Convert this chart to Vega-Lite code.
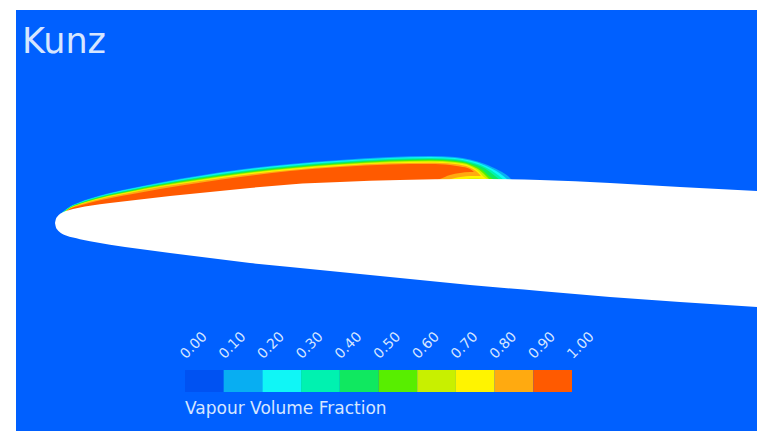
{
  "$schema": "https://vega.github.io/schema/vega-lite/v6.json",
  "width": 757,
  "height": 431,
  "autosize": {"type": "fit", "contains": "padding"},
  "padding": 0,
  "background": "white",
  "config": {"view": {"stroke": null}},
  "datasets": {
    "profile": [
      {"x": 0, "yu": 2, "yl": 2},
      {"x": 1, "yu": 6.3, "yl": -2.5},
      {"x": 2, "yu": 8, "yl": -4.3},
      {"x": 4, "yu": 10.2, "yl": -6.5},
      {"x": 7, "yu": 12.2, "yl": -8.7},
      {"x": 11, "yu": 13.9, "yl": -10.6},
      {"x": 18, "yu": 16, "yl": -12.6},
      {"x": 25, "yu": 17.4, "yl": -14.2},
      {"x": 35, "yu": 19.2, "yl": -16.2},
      {"x": 55, "yu": 22, "yl": -19.8},
      {"x": 85, "yu": 25.4, "yl": -24},
      {"x": 115, "yu": 29, "yl": -28},
      {"x": 155, "yu": 33, "yl": -33},
      {"x": 195, "yu": 37, "yl": -38},
      {"x": 235, "yu": 40.6, "yl": -42},
      {"x": 285, "yu": 43, "yl": -47},
      {"x": 345, "yu": 45, "yl": -53},
      {"x": 415, "yu": 46, "yl": -60},
      {"x": 485, "yu": 45, "yl": -66},
      {"x": 555, "yu": 42, "yl": -72},
      {"x": 625, "yu": 38, "yl": -77},
      {"x": 702, "yu": 34, "yl": -82}
    ],
    "cavity": [
      {"l": "0.1", "x": 7, "t": 12.5, "b": 9},
      {"l": "0.1", "x": 15, "t": 18.5, "b": 12},
      {"l": "0.1", "x": 25, "t": 23, "b": 14},
      {"l": "0.1", "x": 45, "t": 29.5, "b": 17.5},
      {"l": "0.1", "x": 75, "t": 36.5, "b": 21},
      {"l": "0.1", "x": 105, "t": 42.5, "b": 24.5},
      {"l": "0.1", "x": 145, "t": 49.5, "b": 29},
      {"l": "0.1", "x": 185, "t": 55.5, "b": 33},
      {"l": "0.1", "x": 235, "t": 61, "b": 38},
      {"l": "0.1", "x": 285, "t": 65, "b": 40},
      {"l": "0.1", "x": 335, "t": 68, "b": 41.7},
      {"l": "0.1", "x": 375, "t": 69, "b": 42.4},
      {"l": "0.1", "x": 400, "t": 68, "b": 42.8},
      {"l": "0.1", "x": 415, "t": 65.5, "b": 43},
      {"l": "0.1", "x": 430, "t": 61, "b": 42.8},
      {"l": "0.1", "x": 445, "t": 54, "b": 42.6},
      {"l": "0.1", "x": 453, "t": 49, "b": 42.5},
      {"l": "0.1", "x": 457, "t": 45, "b": 42.5},

      {"l": "0.2", "x": 7, "t": 12, "b": 9},
      {"l": "0.2", "x": 15, "t": 18.2, "b": 12},
      {"l": "0.2", "x": 25, "t": 22.6, "b": 14},
      {"l": "0.2", "x": 45, "t": 29, "b": 17.5},
      {"l": "0.2", "x": 75, "t": 35.9, "b": 21},
      {"l": "0.2", "x": 105, "t": 41.8, "b": 24.5},
      {"l": "0.2", "x": 145, "t": 48.7, "b": 29},
      {"l": "0.2", "x": 185, "t": 54.7, "b": 33},
      {"l": "0.2", "x": 235, "t": 60.2, "b": 38},
      {"l": "0.2", "x": 285, "t": 64.2, "b": 40},
      {"l": "0.2", "x": 335, "t": 67.1, "b": 41.7},
      {"l": "0.2", "x": 375, "t": 68, "b": 42.4},
      {"l": "0.2", "x": 400, "t": 67, "b": 42.8},
      {"l": "0.2", "x": 415, "t": 64.4, "b": 43},
      {"l": "0.2", "x": 430, "t": 59.5, "b": 42.8},
      {"l": "0.2", "x": 445, "t": 51.5, "b": 42.6},
      {"l": "0.2", "x": 453, "t": 45, "b": 42.5},

      {"l": "0.3", "x": 7, "t": 12, "b": 9},
      {"l": "0.3", "x": 15, "t": 17.9, "b": 12},
      {"l": "0.3", "x": 25, "t": 22.3, "b": 14},
      {"l": "0.3", "x": 45, "t": 28.5, "b": 17.5},
      {"l": "0.3", "x": 75, "t": 35.3, "b": 21},
      {"l": "0.3", "x": 105, "t": 41.2, "b": 24.5},
      {"l": "0.3", "x": 145, "t": 47.9, "b": 29},
      {"l": "0.3", "x": 185, "t": 53.8, "b": 33},
      {"l": "0.3", "x": 235, "t": 59.3, "b": 38},
      {"l": "0.3", "x": 285, "t": 63.3, "b": 40},
      {"l": "0.3", "x": 335, "t": 66.2, "b": 41.7},
      {"l": "0.3", "x": 375, "t": 67.1, "b": 42.4},
      {"l": "0.3", "x": 400, "t": 66, "b": 42.8},
      {"l": "0.3", "x": 415, "t": 63.2, "b": 43},
      {"l": "0.3", "x": 430, "t": 58, "b": 42.8},
      {"l": "0.3", "x": 443, "t": 50, "b": 42.6},
      {"l": "0.3", "x": 449, "t": 45, "b": 42.5},

      {"l": "0.4", "x": 8, "t": 12, "b": 9},
      {"l": "0.4", "x": 15, "t": 17.6, "b": 12},
      {"l": "0.4", "x": 25, "t": 21.9, "b": 14},
      {"l": "0.4", "x": 45, "t": 28.1, "b": 17.5},
      {"l": "0.4", "x": 75, "t": 34.7, "b": 21},
      {"l": "0.4", "x": 105, "t": 40.5, "b": 24.5},
      {"l": "0.4", "x": 145, "t": 47.2, "b": 29},
      {"l": "0.4", "x": 185, "t": 53, "b": 33},
      {"l": "0.4", "x": 235, "t": 58.5, "b": 38},
      {"l": "0.4", "x": 285, "t": 62.5, "b": 40},
      {"l": "0.4", "x": 335, "t": 65.3, "b": 41.7},
      {"l": "0.4", "x": 375, "t": 66.1, "b": 42.4},
      {"l": "0.4", "x": 400, "t": 64.9, "b": 42.8},
      {"l": "0.4", "x": 415, "t": 62.1, "b": 43},
      {"l": "0.4", "x": 430, "t": 56.5, "b": 42.8},
      {"l": "0.4", "x": 440, "t": 49, "b": 42.6},
      {"l": "0.4", "x": 445, "t": 45, "b": 42.6},

      {"l": "0.5", "x": 9, "t": 12.8, "b": 10},
      {"l": "0.5", "x": 15, "t": 17.3, "b": 12},
      {"l": "0.5", "x": 25, "t": 21.6, "b": 14},
      {"l": "0.5", "x": 45, "t": 27.6, "b": 17.5},
      {"l": "0.5", "x": 75, "t": 34.1, "b": 21},
      {"l": "0.5", "x": 105, "t": 39.9, "b": 24.5},
      {"l": "0.5", "x": 145, "t": 46.4, "b": 29},
      {"l": "0.5", "x": 185, "t": 52.1, "b": 33},
      {"l": "0.5", "x": 235, "t": 57.6, "b": 38},
      {"l": "0.5", "x": 285, "t": 61.6, "b": 40},
      {"l": "0.5", "x": 335, "t": 64.4, "b": 41.7},
      {"l": "0.5", "x": 375, "t": 65.2, "b": 42.4},
      {"l": "0.5", "x": 400, "t": 63.9, "b": 42.8},
      {"l": "0.5", "x": 415, "t": 60.9, "b": 43},
      {"l": "0.5", "x": 427, "t": 55, "b": 42.8},
      {"l": "0.5", "x": 435, "t": 48, "b": 42.7},
      {"l": "0.5", "x": 439, "t": 45, "b": 42.6},

      {"l": "0.6", "x": 10, "t": 13.3, "b": 10.5},
      {"l": "0.6", "x": 15, "t": 17, "b": 12},
      {"l": "0.6", "x": 25, "t": 21.2, "b": 14},
      {"l": "0.6", "x": 45, "t": 27.1, "b": 17.5},
      {"l": "0.6", "x": 75, "t": 33.5, "b": 21},
      {"l": "0.6", "x": 105, "t": 39.2, "b": 24.5},
      {"l": "0.6", "x": 145, "t": 45.6, "b": 29},
      {"l": "0.6", "x": 185, "t": 51.3, "b": 33},
      {"l": "0.6", "x": 235, "t": 56.8, "b": 38},
      {"l": "0.6", "x": 285, "t": 60.8, "b": 40},
      {"l": "0.6", "x": 335, "t": 63.5, "b": 41.7},
      {"l": "0.6", "x": 375, "t": 64.2, "b": 42.4},
      {"l": "0.6", "x": 400, "t": 62.9, "b": 42.8},
      {"l": "0.6", "x": 415, "t": 59.8, "b": 43},
      {"l": "0.6", "x": 425, "t": 54.5, "b": 42.8},
      {"l": "0.6", "x": 432, "t": 48, "b": 42.7},
      {"l": "0.6", "x": 435, "t": 45, "b": 42.7},

      {"l": "0.7", "x": 10, "t": 13.2, "b": 10.5},
      {"l": "0.7", "x": 15, "t": 16.8, "b": 12},
      {"l": "0.7", "x": 25, "t": 20.8, "b": 14},
      {"l": "0.7", "x": 45, "t": 26.6, "b": 17.5},
      {"l": "0.7", "x": 75, "t": 32.9, "b": 21},
      {"l": "0.7", "x": 105, "t": 38.5, "b": 24.5},
      {"l": "0.7", "x": 145, "t": 44.8, "b": 29},
      {"l": "0.7", "x": 185, "t": 50.5, "b": 33},
      {"l": "0.7", "x": 235, "t": 56, "b": 38},
      {"l": "0.7", "x": 285, "t": 60, "b": 40},
      {"l": "0.7", "x": 335, "t": 62.6, "b": 41.7},
      {"l": "0.7", "x": 375, "t": 63.2, "b": 42.4},
      {"l": "0.7", "x": 400, "t": 61.9, "b": 42.8},
      {"l": "0.7", "x": 415, "t": 58.7, "b": 46.5},
      {"l": "0.7", "x": 423, "t": 54, "b": 46.5},
      {"l": "0.7", "x": 429, "t": 48, "b": 46},
      {"l": "0.7", "x": 432, "t": 46, "b": 46},

      {"l": "0.8", "x": 11, "t": 13.6, "b": 11},
      {"l": "0.8", "x": 15, "t": 16.5, "b": 12},
      {"l": "0.8", "x": 25, "t": 20.5, "b": 14},
      {"l": "0.8", "x": 45, "t": 26.1, "b": 17.5},
      {"l": "0.8", "x": 75, "t": 32.3, "b": 21},
      {"l": "0.8", "x": 105, "t": 37.9, "b": 24.5},
      {"l": "0.8", "x": 145, "t": 44, "b": 29},
      {"l": "0.8", "x": 185, "t": 49.6, "b": 33},
      {"l": "0.8", "x": 235, "t": 55.1, "b": 38},
      {"l": "0.8", "x": 285, "t": 59.1, "b": 40},
      {"l": "0.8", "x": 335, "t": 61.7, "b": 41.7},
      {"l": "0.8", "x": 375, "t": 62.3, "b": 42.4},
      {"l": "0.8", "x": 385, "t": 62, "b": 43},
      {"l": "0.8", "x": 400, "t": 60.9, "b": 47},
      {"l": "0.8", "x": 415, "t": 57.5, "b": 49},
      {"l": "0.8", "x": 421, "t": 54, "b": 49},
      {"l": "0.8", "x": 426, "t": 49, "b": 49},

      {"l": "0.9", "x": 11, "t": 13.6, "b": 11},
      {"l": "0.9", "x": 15, "t": 16.2, "b": 12},
      {"l": "0.9", "x": 25, "t": 19.5, "b": 14},
      {"l": "0.9", "x": 45, "t": 24.7, "b": 17.5},
      {"l": "0.9", "x": 75, "t": 30.5, "b": 21},
      {"l": "0.9", "x": 105, "t": 36, "b": 24.5},
      {"l": "0.9", "x": 145, "t": 42.2, "b": 29},
      {"l": "0.9", "x": 185, "t": 48, "b": 33},
      {"l": "0.9", "x": 235, "t": 54, "b": 38},
      {"l": "0.9", "x": 285, "t": 58, "b": 40},
      {"l": "0.9", "x": 335, "t": 60.5, "b": 41.7},
      {"l": "0.9", "x": 375, "t": 61, "b": 42.4},
      {"l": "0.9", "x": 385, "t": 60.7, "b": 46},
      {"l": "0.9", "x": 395, "t": 60, "b": 50},
      {"l": "0.9", "x": 405, "t": 58.5, "b": 52},
      {"l": "0.9", "x": 415, "t": 56, "b": 53},
      {"l": "0.9", "x": 419, "t": 53, "b": 53}
    ],
    "bins": [
      {"l": "0.0", "v0": 0.0, "v1": 0.1},
      {"l": "0.1", "v0": 0.1, "v1": 0.2},
      {"l": "0.2", "v0": 0.2, "v1": 0.3},
      {"l": "0.3", "v0": 0.3, "v1": 0.4},
      {"l": "0.4", "v0": 0.4, "v1": 0.5},
      {"l": "0.5", "v0": 0.5, "v1": 0.6},
      {"l": "0.6", "v0": 0.6, "v1": 0.7},
      {"l": "0.7", "v0": 0.7, "v1": 0.8},
      {"l": "0.8", "v0": 0.8, "v1": 0.9},
      {"l": "0.9", "v0": 0.9, "v1": 1.0}
    ],
    "ticks": [
      {"v": 0.0, "label": "0.00"},
      {"v": 0.1, "label": "0.10"},
      {"v": 0.2, "label": "0.20"},
      {"v": 0.3, "label": "0.30"},
      {"v": 0.4, "label": "0.40"},
      {"v": 0.5, "label": "0.50"},
      {"v": 0.6, "label": "0.60"},
      {"v": 0.7, "label": "0.70"},
      {"v": 0.8, "label": "0.80"},
      {"v": 0.9, "label": "0.90"},
      {"v": 1.0, "label": "1.00"}
    ]
  },
  "layer": [
    {
      "layer": [
        {
          "data": {"values": [{}]},
          "mark": {"type": "rect", "fill": "#0060FF"},
          "encoding": {
            "x": {"datum": -39, "type": "quantitative", "axis": null, "scale": {"domain": [-55, 702], "nice": false, "zero": false}},
            "x2": {"datum": 702},
            "y": {"datum": 215, "type": "quantitative", "axis": null, "scale": {"domain": [-206, 225], "nice": false, "zero": false}},
            "y2": {"datum": -206}
          }
        },
        {
          "data": {"name": "cavity"},
          "mark": {"type": "area", "interpolate": "monotone"},
          "encoding": {
            "x": {"field": "x", "type": "quantitative", "axis": null},
            "y": {"field": "t", "type": "quantitative", "axis": null, "stack": null},
            "y2": {"field": "b"},
            "color": {
              "field": "l",
              "type": "nominal",
              "legend": null,
              "scale": {
                "domain": ["0.0", "0.1", "0.2", "0.3", "0.4", "0.5", "0.6", "0.7", "0.8", "0.9"],
                "range": ["#0052F2", "#08AEF2", "#10F6F6", "#00F2B0", "#10E860", "#58EE00", "#C8F000", "#FFF400", "#FFAA10", "#FF5A00"]
              }
            }
          }
        },
        {
          "data": {"name": "profile"},
          "mark": {"type": "area", "interpolate": "monotone", "fill": "white"},
          "encoding": {
            "x": {"field": "x", "type": "quantitative", "axis": null},
            "y": {"field": "yu", "type": "quantitative", "axis": null},
            "y2": {"field": "yl"}
          }
        },
        {
          "data": {"values": [{"name": "Kunz"}]},
          "mark": {"type": "text", "font": "DejaVu Sans", "fontSize": 35, "align": "left", "baseline": "alphabetic", "fill": "#D6E6FF"},
          "encoding": {
            "x": {"datum": -33, "type": "quantitative", "axis": null},
            "y": {"datum": 172, "type": "quantitative", "axis": null},
            "text": {"field": "name"}
          }
        }
      ]
    },
    {
      "layer": [
        {
          "data": {"name": "bins"},
          "mark": {"type": "rect"},
          "encoding": {
            "x": {"field": "v0", "type": "quantitative", "axis": null, "scale": {"domain": [0, 1], "range": [185, 572], "nice": false, "zero": false}},
            "x2": {"field": "v1"},
            "y": {"datum": 0, "type": "quantitative", "axis": null, "scale": {"domain": [0, 1], "range": [392, 370], "nice": false, "zero": false}},
            "y2": {"datum": 1},
            "color": {"field": "l", "type": "nominal", "legend": null}
          }
        },
        {
          "data": {"name": "ticks"},
          "mark": {"type": "text", "font": "DejaVu Sans", "fontSize": 14, "angle": -45, "align": "left", "baseline": "alphabetic", "fill": "#D6E6FF", "dx": 1},
          "encoding": {
            "x": {"field": "v", "type": "quantitative", "axis": null},
            "y": {"datum": 1.45, "type": "quantitative", "axis": null},
            "text": {"field": "label"}
          }
        },
        {
          "data": {"values": [{"name": "Vapour Volume Fraction"}]},
          "mark": {"type": "text", "font": "DejaVu Sans", "fontSize": 17, "align": "left", "baseline": "middle", "fill": "#D6E6FF"},
          "encoding": {
            "x": {"datum": 0, "type": "quantitative", "axis": null},
            "y": {"datum": -0.75, "type": "quantitative", "axis": null},
            "text": {"field": "name"}
          }
        }
      ]
    }
  ],
  "resolve": {"scale": {"x": "independent", "y": "independent"}}
}
